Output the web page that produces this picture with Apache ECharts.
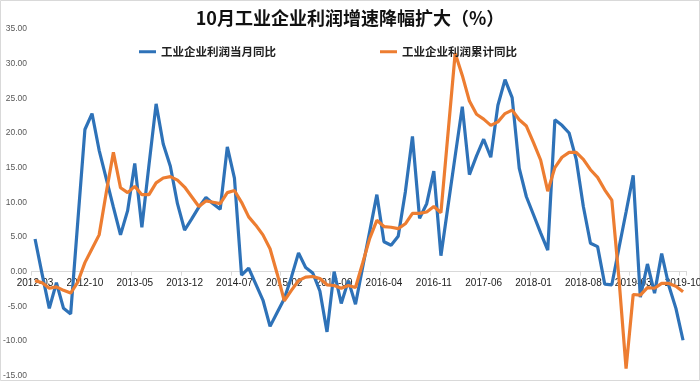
<!DOCTYPE html>
<html>
<head>
<meta charset="utf-8">
<script src="https://cdn.jsdelivr.net/npm/echarts@6/dist/echarts.min.js"></script>
<style>
html,body{margin:0;padding:0;background:#fff;}
#c{width:700px;height:381px;}
</style>
</head>
<body>
<div id="c"></div>
<script>
const categories = [
"2012-03","2012-04","2012-05","2012-06","2012-07","2012-08","2012-09","2012-10","2012-11","2012-12",
"2013-01","2013-02","2013-03","2013-04","2013-05","2013-06","2013-07","2013-08","2013-09","2013-10","2013-11","2013-12",
"2014-01","2014-02","2014-03","2014-04","2014-05","2014-06","2014-07","2014-08","2014-09","2014-10","2014-11","2014-12",
"2015-01","2015-02","2015-03","2015-04","2015-05","2015-06","2015-07","2015-08","2015-09","2015-10","2015-11","2015-12",
"2016-01","2016-02","2016-03","2016-04","2016-05","2016-06","2016-07","2016-08","2016-09","2016-10","2016-11","2016-12",
"2017-01","2017-02","2017-03","2017-04","2017-05","2017-06","2017-07","2017-08","2017-09","2017-10","2017-11","2017-12",
"2018-01","2018-02","2018-03","2018-04","2018-05","2018-06","2018-07","2018-08","2018-09","2018-10","2018-11","2018-12",
"2019-01","2019-02","2019-03","2019-04","2019-05","2019-06","2019-07","2019-08","2019-09","2019-10"
];

const monthlyYoY = [
4.7,-0.4,-5.3,-1.6,-5.3,-6.1,7.2,20.5,22.8,17.5,
13.4,9.3,5.3,8.8,15.6,6.4,15.4,24.2,18.4,15.2,9.8,6.0,
7.6,9.3,10.7,9.8,9.0,18.0,13.5,-0.5,0.5,-1.8,-4.1,-7.9,
-5.9,-3.9,-0.8,2.7,0.6,-0.2,-2.8,-8.7,0.0,-4.6,-1.3,-4.7,
0.6,5.8,11.1,4.3,3.8,5.1,11.5,19.5,7.7,9.8,14.5,2.3,
9.5,16.7,23.8,14.0,16.7,19.1,16.5,24.0,27.7,25.1,14.9,10.8,
8.2,5.6,3.1,21.9,21.1,20.0,16.2,9.4,4.1,3.6,-1.8,-1.9,
3.4,8.6,13.9,-3.7,1.1,-3.1,2.6,-2.0,-5.3,-9.9
];

const cumulativeYoY = [
-1.3,-1.6,-2.4,-2.2,-2.7,-3.1,-1.5,1.3,3.3,5.3,
11.4,17.2,12.1,11.4,12.3,11.1,11.1,12.8,13.5,13.7,13.2,12.2,
10.8,9.4,10.2,10.0,9.8,11.4,11.7,10.0,7.9,6.7,5.3,3.3,
-0.3,-4.2,-2.7,-1.3,-0.8,-0.7,-1.0,-1.9,-2.0,-2.4,-2.0,-2.3,
1.2,4.8,7.4,6.5,6.4,6.2,6.9,8.4,8.4,8.6,9.4,8.5,
20.0,31.5,28.3,24.6,22.7,22.0,21.1,21.6,22.8,23.3,21.9,21.0,
18.6,16.1,11.6,15.0,16.5,17.2,17.2,16.2,14.7,13.6,11.8,10.3,
-1.0,-14.0,-3.3,-3.4,-2.3,-2.4,-1.7,-1.7,-2.1,-2.9
];

const seriesNames = ["工业企业利润当月同比","工业企业利润累计同比"];
const titleText = "10月工业企业利润增速降幅扩大（%）";
const yMin = -15, yMax = 35, yStep = 5;

const gridTop = 29, gridBottom = 5.4, H = 381;
const plotH = H - gridTop - gridBottom;
const zeroOffset = -plotH * (0 - yMin) / (yMax - yMin);

const chart = echarts.init(document.getElementById('c'), null, {renderer:'canvas'});
const cjk = '"Noto Sans CJK SC", "Noto Sans", sans-serif';
chart.setOption({
  animation:false,
  backgroundColor:'#ffffff',
  color:['#2E72B8','#ED7D31'],
  title:{
    text:titleText,
    left:'center',
    top:4,
    textStyle:{fontFamily:cjk,fontSize:18,fontWeight:'bold',color:'#111'}
  },
  legend:{
    data:seriesNames,
    left:134,
    top:41,
    itemGap:104,
    itemWidth:17,
    itemHeight:3,
    icon:'rect',
    textStyle:{fontFamily:cjk,fontSize:11.5,fontWeight:'bold',color:'#222'}
  },
  grid:{left:31.5,right:13.4,top:gridTop,bottom:gridBottom,containLabel:false,outerBoundsMode:'none'},
  xAxis:{
    type:'category',
    data:categories,
    boundaryGap:true,
    offset:zeroOffset,
    axisLine:{onZero:false,lineStyle:{color:'#d9d9d9',width:1}},
    axisTick:{show:true,interval:6,length:4,lineStyle:{color:'#d9d9d9'}},
    axisLabel:{interval:6,fontSize:10,color:'#222',margin:7,fontFamily:'"Liberation Sans", Arial, sans-serif'},
    splitLine:{show:false}
  },
  yAxis:{
    type:'value',
    min:yMin,max:yMax,interval:yStep,
    axisLine:{show:false},
    axisTick:{show:false},
    splitLine:{show:false},
    axisLabel:{fontSize:8.5,color:'#595959',margin:4.5,fontFamily:'"Liberation Sans", Arial, sans-serif',
      formatter:function(v){return v.toFixed(2);}}
  },
  graphic:[{type:'rect',shape:{x:0.5,y:0.5,width:699,height:380},style:{fill:'none',stroke:'#d9d9d9',lineWidth:1},silent:true,z:-1}],
  series:[
    {name:seriesNames[0],type:'line',data:monthlyYoY,symbol:'none',lineStyle:{width:3.2},z:2},
    {name:seriesNames[1],type:'line',data:cumulativeYoY,symbol:'none',lineStyle:{width:3.2},z:3}
  ]
});
</script>
</body>
</html>
